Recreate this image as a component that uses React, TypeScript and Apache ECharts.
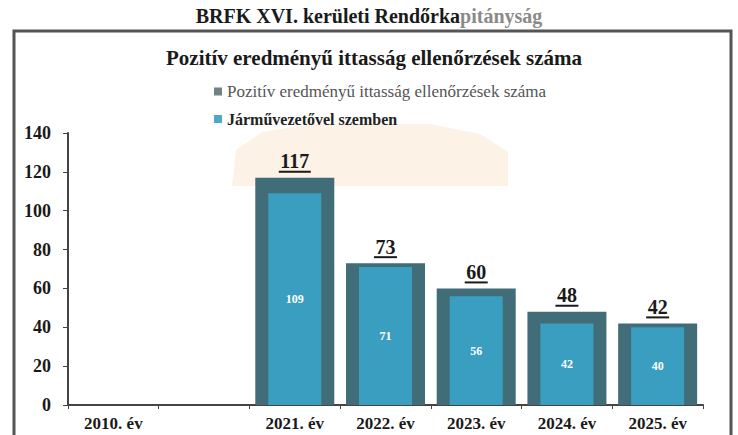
import React, { useEffect, useRef } from "react";
import * as echarts from "echarts";

const categories = ["2010. év", "", "2021. év", "2022. év", "2023. év", "2024. év", "2025. év"];
const totalValues: (number | null)[] = [null, null, 117, 73, 60, 48, 42];
const driverValues: (number | null)[] = [null, null, 109, 71, 56, 42, 40];
const yTicks = [0, 20, 40, 60, 80, 100, 120, 140];
const seriesNames = ["Pozitív eredményű ittasság ellenőrzések száma", "Járművezetővel szemben"];
const pageTitleA = "BRFK XVI. kerületi Rendőrka";
const pageTitleB = "pitányság";
const chartTitle = "Pozitív eredményű ittasság ellenőrzések száma";

const FONT = "'Liberation Serif', 'Times New Roman', serif";

export default function App() {
  const ref = useRef<HTMLDivElement>(null);
  useEffect(() => {
    if (!ref.current) return;
    const chart = echarts.init(ref.current, undefined, { renderer: "svg" });
    chart.setOption({
      animation: false,
      backgroundColor: "#ffffff",
      textStyle: { fontFamily: FONT },
      graphic: [
        {
          type: "polygon",
          z: 0,
          shape: {
            points: [
              [232, 186],
              [236, 150],
              [262, 132],
              [310, 124],
              [430, 124],
              [480, 134],
              [508, 152],
              [508, 186],
            ],
          },
          style: { fill: "rgba(248, 208, 165, 0.28)" },
        },
        {
          type: "rect",
          z: 1,
          shape: { x: 14, y: 31, width: 717, height: 430 },
          style: { fill: "none", stroke: "#555555", lineWidth: 3 },
        },
        {
          type: "text",
          z: 5,
          x: 369,
          y: 6,
          style: {
            text: `{a|${pageTitleA}}{b|${pageTitleB}}`,
            align: "center",
            rich: {
              a: { fontFamily: FONT, fontWeight: "bold", fontSize: 20, fill: "#1a1a1a" },
              b: { fontFamily: FONT, fontWeight: "bold", fontSize: 20, fill: "#8a8a8a" },
            },
          },
        },
        {
          type: "text",
          z: 5,
          x: 374,
          y: 47,
          style: {
            text: chartTitle,
            align: "center",
            fontFamily: FONT,
            fontWeight: "bold",
            fontSize: 21,
            fill: "#1a1a1a",
          },
        },
      ],
      legend: {
        orient: "vertical",
        left: 209,
        top: 78,
        itemWidth: 8,
        itemHeight: 8,
        itemGap: 11,
        icon: "rect",
        data: [
          {
            name: seriesNames[0],
            itemStyle: { color: "#6f8286" },
            textStyle: { color: "#555555", fontSize: 17, fontWeight: "normal", fontFamily: FONT },
          },
          {
            name: seriesNames[1],
            itemStyle: { color: "#4fa7cc" },
            textStyle: { color: "#222222", fontSize: 16, fontWeight: "bold", fontFamily: FONT },
          },
        ],
        textStyle: { fontFamily: FONT },
      },
      grid: { left: 68, right: 35, top: 133, bottom: 30, containLabel: false },
      xAxis: [
        {
          type: "category",
          data: categories,
          axisLine: { show: true, lineStyle: { color: "#444444", width: 2 } },
          axisTick: { show: true, length: 4, lineStyle: { color: "#444444" } },
          axisLabel: {
            color: "#1a1a1a",
            fontWeight: "bold",
            fontSize: 17,
            fontFamily: FONT,
            margin: 10,
          },
        },
        {
          type: "category",
          data: categories,
          show: false,
        },
      ],
      yAxis: {
        type: "value",
        min: 0,
        max: 140,
        interval: 20,
        axisLine: { show: true, lineStyle: { color: "#444444", width: 2 } },
        axisTick: { show: true, length: 5, lineStyle: { color: "#444444" } },
        splitLine: { show: false },
        axisLabel: {
          color: "#1a1a1a",
          fontWeight: "bold",
          fontSize: 18,
          fontFamily: FONT,
          margin: 17,
          customValues: yTicks,
        },
      },
      series: [
        {
          name: seriesNames[0],
          type: "bar",
          xAxisIndex: 0,
          barWidth: 79,
          data: totalValues,
          z: 2,
          itemStyle: { color: "#416d78" },
          label: {
            show: true,
            position: "top",
            distance: 5,
            formatter: (p: any) => {
              const s = String(p.value);
              return `{v|${s}}\n{${s.length > 2 ? "u3" : "u2"}|}`;
            },
            rich: {
              v: {
                fontFamily: FONT,
                fontWeight: "bold",
                fontSize: 20,
                color: "#1a1a1a",
                lineHeight: 19,
                align: "center",
              },
              u2: { width: 23, height: 2, backgroundColor: "#1a1a1a", align: "center" },
              u3: { width: 32, height: 2, backgroundColor: "#1a1a1a", align: "center" },
            },
          },
        },
        {
          name: seriesNames[1],
          type: "bar",
          xAxisIndex: 1,
          barWidth: 53,
          data: driverValues,
          z: 3,
          itemStyle: { color: "#3a9ec1" },
          label: {
            show: true,
            position: "inside",
            color: "#ffffff",
            fontFamily: FONT,
            fontWeight: "bold",
            fontSize: 12,
          },
        },
      ],
    });
    return () => chart.dispose();
  }, []);
  return (
    <div
      ref={ref}
      style={{ position: "fixed", left: 0, top: 0, width: 738, height: 435 }}
    />
  );
}
